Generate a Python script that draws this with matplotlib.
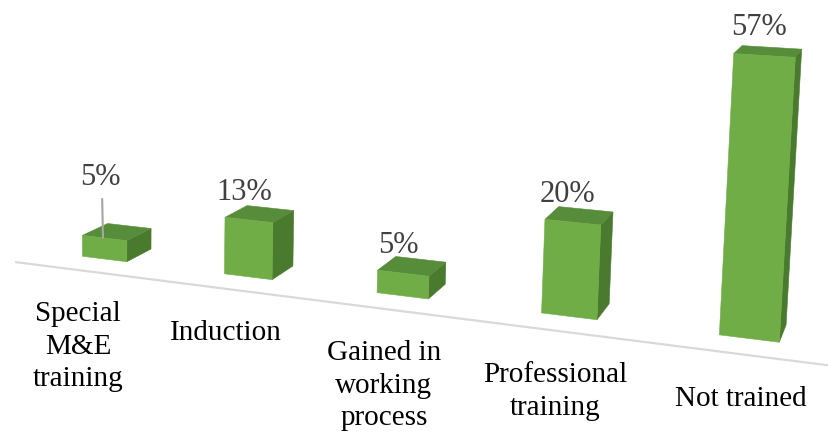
import matplotlib
matplotlib.use("Agg")
import matplotlib.pyplot as plt
from matplotlib.patches import Polygon
import numpy as np

# ---- data -------------------------------------------------------------
categories = [
    "Special\nM&E\ntraining",
    "Induction",
    "Gained in\nworking\nprocess",
    "Professional\ntraining",
    "Not trained",
]
shares = [5, 13, 5, 20, 57]          # percent of respondents
value_labels = [f"{s}%" for s in shares]

# ---- simple perspective camera (world -> pixel space) -----------------
# X: category axis, Y: depth (0 = front), Z: height in percent
U0, V0 = 104.5, 259.0
BX, BY = 138.6, 25.4
CX, CY, CZ = 17.1, -12.9, 4.2
KX, KY, KZ = 0.035, 0.0288, 0.000347


def project(X, Y, Z):
    X, Y, Z = (np.asarray(a, dtype=float) for a in (X, Y, Z))
    D = 1.0 - KX * X + KY * Y - KZ * Z
    u = U0 + (BX * X + BY * Y) / D
    v = V0 + (CX * X + CY * Y - CZ * Z) / D
    return u, v


def face(pts):
    xs, ys, zs = zip(*pts)
    u, v = project(xs, ys, zs)
    return np.column_stack([u, v])


HALF_W = 0.16      # half bar width along X
DEPTH = 1.0        # bar depth along Y
FRONT = "#70AD47"
TOP = "#578C3A"
SIDE = "#497A2E"
TEXT_FONT = ["Liberation Serif", "DejaVu Serif"]

fig = plt.figure(figsize=(8.29, 4.32), dpi=100)
ax = fig.add_axes([0, 0, 1, 1])
ax.set_xlim(0, 829)
ax.set_ylim(432, 0)
ax.axis("off")

# floor line in front of the bars
fx = np.linspace(-0.48, 4.44, 50)
fu, fv = project(fx, np.full_like(fx, -0.87), np.zeros_like(fx))
ax.plot(fu, fv, color="#D9D9D9", lw=1.6, solid_capstyle="butt", zorder=1)

for i, z in enumerate(shares):
    x0, x1 = i - HALF_W, i + HALF_W
    side = face([(x1, 0, 0), (x1, DEPTH, 0), (x1, DEPTH, z), (x1, 0, z)])
    top = face([(x0, 0, z), (x1, 0, z), (x1, DEPTH, z), (x0, DEPTH, z)])
    front = face([(x0, 0, 0), (x1, 0, 0), (x1, 0, z), (x0, 0, z)])
    for poly, col in ((side, SIDE), (top, TOP), (front, FRONT)):
        ax.add_patch(Polygon(poly, closed=True, facecolor=col,
                             edgecolor=col, lw=0.4, zorder=2 + i * 0.01))

    # value label above the front-top edge
    pu, pv = project(i, 0, z)
    if i == 0:
        ax.annotate(value_labels[i], xy=(pu - 1.5, pv), xytext=(-3, 53),
                    textcoords="offset pixels", ha="center", va="baseline",
                    fontsize=22, color="#404040", family=TEXT_FONT,
                    arrowprops=dict(arrowstyle="-", color="#A6A6A6", lw=1.5,
                                    shrinkA=3, shrinkB=0,
                                    relpos=(0.55, 0.0)),
                    zorder=5)
    else:
        ax.annotate(value_labels[i], xy=(pu, pv), xytext=(-5, 20),
                    textcoords="offset pixels", ha="center", va="baseline",
                    fontsize=22, color="#404040", family=TEXT_FONT, zorder=5)

    # category label below the floor line
    cu, cv = project(i, -1.0, 0)
    ax.annotate(categories[i], xy=(cu, cv), xytext=(0, -29),
                textcoords="offset pixels", ha="center", va="top",
                multialignment="center", linespacing=1.32,
                fontsize=21, color="#000000", family=TEXT_FONT, zorder=5)

fig.savefig("out.png", dpi=100, facecolor="white")
